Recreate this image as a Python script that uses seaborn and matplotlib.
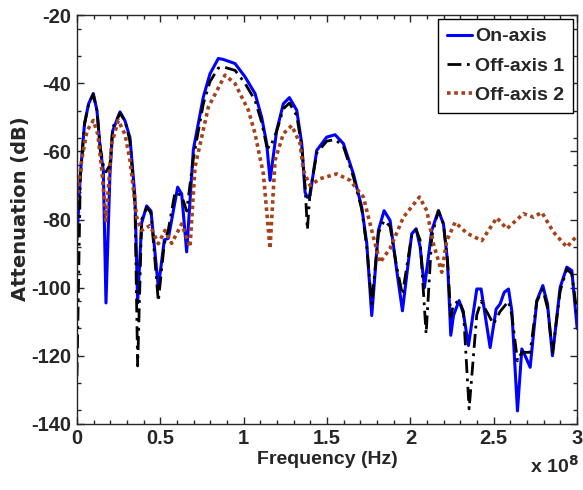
import matplotlib
matplotlib.use("Agg")
import matplotlib.pyplot as plt
import seaborn as sns
import numpy as np
from matplotlib.ticker import MultipleLocator

# frequency in units of 1e8 Hz, attenuation in dB
freq_on = [0, 0.02, 0.045, 0.07, 0.098, 0.12, 0.14, 0.158, 0.174, 0.198, 0.214, 0.258, 0.288,
           0.318, 0.348, 0.364, 0.388, 0.418, 0.444, 0.488, 0.524, 0.548, 0.604, 0.628, 0.658,
           0.698, 0.758, 0.798, 0.848, 0.878, 0.948, 1.008, 1.068, 1.108, 1.138, 1.158, 1.198,
           1.238, 1.274, 1.318, 1.348, 1.368, 1.382, 1.398, 1.438, 1.498, 1.548, 1.598, 1.658,
           1.708, 1.738, 1.768, 1.808, 1.842, 1.878, 1.918, 1.952, 2.008, 2.034, 2.058, 2.084,
           2.128, 2.168, 2.198, 2.222, 2.242, 2.258, 2.292, 2.318, 2.348, 2.398, 2.424, 2.478,
           2.514, 2.538, 2.562, 2.588, 2.608, 2.642, 2.668, 2.688, 2.718, 2.758, 2.794, 2.822,
           2.852, 2.898, 2.938, 2.968, 3.0]
atten_on = [-86, -67, -52, -46, -43, -48, -59.5, -65.5, -104.5, -66.5, -54, -48.4, -51,
            -56, -73.5, -104.5, -81, -76, -77.5, -100, -86, -85.5, -70.5, -72.5, -89.5,
            -59.5, -44, -37.2, -32.7, -33, -34.2, -38.1, -43, -50, -57.7, -68.5, -53.8,
            -46, -44.2, -47.9, -57.7, -72, -73.5, -72.9, -59.7, -55.8, -55.1, -57.7, -66.6,
            -76.4, -87, -108.2, -83.2, -77.4, -80.3, -95, -106.8, -84.2, -82.7, -88, -100,
            -83.2, -77.4, -81.3, -92, -114, -108.2, -103.8, -107.7, -117, -100.4, -100.4, -117.6,
            -106.3, -104.8, -101.4, -100.4, -106.8, -136.2, -118, -120, -123.4, -103.8, -99.4, -104.8,
            -120, -99.9, -94, -95, -112]

freq_off1 = [0, 0.02, 0.045, 0.07, 0.098, 0.12, 0.14, 0.158, 0.174, 0.198, 0.214, 0.258, 0.288,
             0.318, 0.348, 0.364, 0.388, 0.418, 0.444, 0.488, 0.524, 0.548, 0.588, 0.628, 0.658,
             0.698, 0.758, 0.798, 0.848, 0.878, 0.948, 1.008, 1.068, 1.108, 1.138, 1.158, 1.198,
             1.238, 1.274, 1.318, 1.348, 1.368, 1.382, 1.398, 1.438, 1.498, 1.548, 1.598, 1.658,
             1.708, 1.738, 1.768, 1.808, 1.842, 1.878, 1.918, 1.952, 2.008, 2.034, 2.058, 2.094,
             2.128, 2.168, 2.198, 2.222, 2.242, 2.258, 2.292, 2.318, 2.352, 2.398, 2.424, 2.498,
             2.538, 2.588, 2.608, 2.642, 2.668, 2.718, 2.758, 2.794, 2.822, 2.852, 2.898, 2.938,
             2.968, 3.0]
atten_off1 = [-126, -68, -52, -46, -43.3, -48, -59, -64, -66, -64, -53, -48.8, -51,
              -57, -76, -123, -80, -76.5, -78, -104, -87, -83, -72, -73, -77.5,
              -62, -46, -39.5, -35.5, -35.2, -36.2, -40, -45, -51.5, -58.5, -59, -54,
              -47.5, -45.8, -49.5, -58.5, -70, -83, -72, -60.5, -57, -56.5, -58.5, -67.5,
              -77, -88, -104.8, -84, -80.3, -82, -94, -102, -84.5, -83, -86, -113.6,
              -85, -77.4, -81.3, -92, -108.5, -105, -103.8, -107, -135.6, -108, -104, -110.7,
              -107, -104, -108, -121.5, -119, -119, -104, -100.5, -106, -119, -101, -94.5,
              -96, -108]

freq_off2 = [0, 0.03, 0.06, 0.098, 0.125, 0.15, 0.174, 0.208, 0.248, 0.288, 0.318, 0.358, 0.388,
             0.438, 0.488, 0.528, 0.568, 0.628, 0.678, 0.708, 0.788, 0.888, 0.948, 1.028, 1.068,
             1.118, 1.158, 1.188, 1.238, 1.288, 1.338, 1.358, 1.398, 1.458, 1.558, 1.638, 1.718,
             1.778, 1.818, 1.878, 1.958, 2.054, 2.098, 2.138, 2.188, 2.218, 2.268, 2.338, 2.428,
             2.518, 2.578, 2.678, 2.738, 2.788, 2.858, 2.938, 3.0]
atten_off2 = [-74.4, -62, -54, -50.9, -55, -66, -80.3, -57.7, -50.9, -55, -62.6, -79.3, -83.2,
              -81.8, -87.1, -83.2, -87, -81.3, -88.1, -64.6, -47, -37.6, -40.1, -47.9, -54.8,
              -66.6, -88.6, -62.6, -54.8, -52.4, -57.7, -65.6, -70, -68, -66.6, -68.5, -73.4,
              -85.2, -92.6, -88.5, -79.3, -73.4, -77.4, -87.1, -95.5, -86.2, -80.8, -84, -86.2,
              -79.5, -82.7, -78.3, -79.3, -77.9, -83.7, -88.1, -84.7]

sns.set_style("ticks")
plt.rcParams['font.family'] = ['Liberation Sans', 'DejaVu Sans']
plt.rcParams['font.weight'] = 'bold'
plt.rcParams['axes.unicode_minus'] = False

fig = plt.figure(figsize=(5.83, 4.9), dpi=100)
ax = fig.add_axes([0.132, 0.135, 0.858, 0.834])

sns.lineplot(x=np.array(freq_on) * 1e8, y=atten_on, ax=ax, color='#0000FF', lw=2.2,
             label='On-axis')
sns.lineplot(x=np.array(freq_off1) * 1e8, y=atten_off1, ax=ax, color='black', lw=2.0,
             label='Off-axis 1', linestyle=(0, (5, 2, 1, 2)))
sns.lineplot(x=np.array(freq_off2) * 1e8, y=atten_off2, ax=ax, color='#A5421A', lw=2.6,
             label='Off-axis 2', linestyle=(0, (1, 1)))

ax.set_xlim(0, 3e8)
ax.set_ylim(-140, -20)
ax.set_xticks(np.arange(0, 3.01e8, 0.5e8))
ax.set_xticklabels(['0', '0.5', '1', '1.5', '2', '2.5', '3'])
ax.xaxis.set_minor_locator(MultipleLocator(0.1e8))
ax.set_yticks(np.arange(-140, -19, 20))
ax.yaxis.set_minor_locator(MultipleLocator(8))
ax.tick_params(which='both', direction='in', top=True, right=True, width=1)
ax.tick_params(which='major', length=5, labelsize=14.5, pad=4)
ax.tick_params(which='minor', length=3)
for lab in ax.get_xticklabels() + ax.get_yticklabels():
    lab.set_fontweight('bold')
for sp in ax.spines.values():
    sp.set_linewidth(1)
    sp.set_visible(True)

ax.set_xlabel('Frequency (Hz)', fontsize=14, fontweight='bold', labelpad=2)
ax.set_ylabel('Attenuation (dB)', fontsize=14, fontweight='bold', family='DejaVu Sans')
ax.yaxis.set_label_coords(-0.094, 0.526)
fig.text(530 / 583, 1 - 473 / 490, r'x 10$^{\mathbf{8}}$', fontsize=14, fontweight='bold',
         va='baseline')

leg = ax.legend(loc='upper right', fontsize=14, frameon=True, fancybox=False,
                edgecolor='black', framealpha=1, handlelength=1.3, handletextpad=0.15,
                borderaxespad=0.2, borderpad=0.45, labelspacing=0.6)
leg.get_frame().set_linewidth(1)
for t in leg.get_texts():
    t.set_fontweight('bold')

fig.savefig('out.png', dpi=100)
